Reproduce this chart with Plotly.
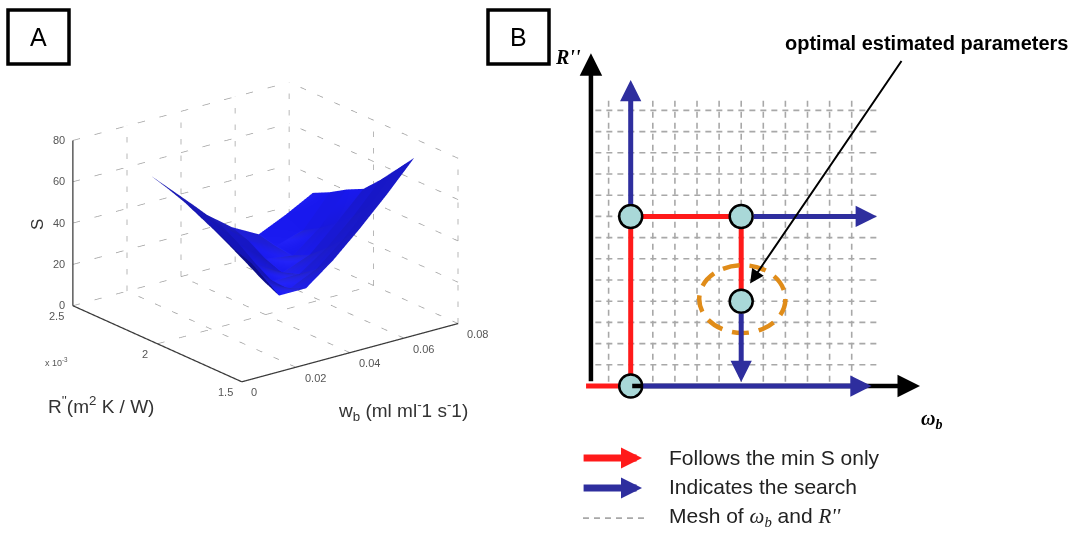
import plotly.graph_objects as go

W, H = 1071, 552

# ---------------- Panel A data ----------------
wb = [0.01, 0.02, 0.03, 0.04, 0.05, 0.06, 0.07]          # w_b (ml ml-1 s-1)
r_pp = [1.6, 1.7, 1.8, 1.9, 2.0, 2.1, 2.2]                # R'' (x10^-3 m2 K/W)
S = [
    [50.0, 31, 31, 41, 53, 66, 80],
    [53.0, 35, 27, 33, 44, 57, 71],
    [57.0, 40, 27, 27, 36, 48, 62],
    [61.0, 46, 32, 24, 29, 41, 54],
    [65.0, 52, 38, 27, 25, 35, 50],
    [68.0, 56, 43, 32, 26, 30, 45],
    [70.5, 58, 45, 35, 28, 34, 41],
]
wb_ticks = [0, 0.02, 0.04, 0.06, 0.08]
wb_ticklabels = ["0", "0.02", "0.04", "0.06", "0.08"]
r_ticks = [1.5, 2.0, 2.5]
r_ticklabels = ["1.5", "2", "2.5"]
s_ticks = [0, 20, 40, 60, 80]
s_ticklabels = ["0", "20", "40", "60", "80"]

# ---------------- Panel B data (schematic, grid units) ----------------
mesh_u = list(range(0, 12))          # omega_b mesh columns
mesh_v = list(range(1, 14))          # R'' mesh rows
path_u = [-1.02, 1, 1, 6, 6]         # path following min S
path_v = [0, 0, 8, 8, 4]
node_u = [1, 1, 6, 6]                # evaluated nodes
node_v = [0, 8, 8, 4]
search_arrows = [(1, 8, 1, 14.43), (6, 8, 12.14, 8), (6, 4, 6, 0.19), (1, 0, 11.9, 0)]
legend_labels = ["Follows the min S only", "Indicates the search",
                 "Mesh of <span style='font-family:Liberation Serif'><i>ω<sub>b</sub></i></span> and "
                 "<span style='font-family:Liberation Serif'><i>R''</i></span>"]

RED = "#ff1a1a"
BLUE = "#2e2e9e"
GRAYG = "#a8a8a8"


def px(xp):
    return xp / W


def py(yp):
    return 1 - yp / H


fig = go.Figure()

# ---------------- Panel A: 3D surface ----------------
W0, W1 = wb_ticks[0], wb_ticks[-1]
R0, R1 = r_ticks[0], r_ticks[-1]
Z0, Z1 = s_ticks[0], s_ticks[-1]

gx, gy, gz = [], [], []


def seg(p, q):
    gx.extend([p[0], q[0], None])
    gy.extend([p[1], q[1], None])
    gz.extend([p[2], q[2], None])


for w in wb_ticks[1:]:
    seg((w, R0, Z0), (w, R1, Z0))
for r in r_ticks[1:]:
    seg((W0, r, Z0), (W1, r, Z0))
for w in wb_ticks[1:]:
    seg((w, R1, Z0), (w, R1, Z1))
for z in s_ticks[1:]:
    seg((W0, R1, z), (W1, R1, z))
for r in r_ticks[:-1]:
    seg((W1, r, Z0), (W1, r, Z1))
for z in s_ticks[1:]:
    seg((W1, R0, z), (W1, R1, z))

fig.add_trace(go.Scatter3d(x=gx, y=gy, z=gz, mode="lines",
                           line=dict(color="#a0a0a0", width=1.5, dash="dot"),
                           hoverinfo="skip", showlegend=False, scene="scene"))

ax_x = [W0, W0, None, W0, W1, None, W0, W0]
ax_y = [R1, R1, None, R0, R0, None, R0, R1]
ax_z = [Z0, Z1, None, Z0, Z0, None, Z0, Z0]
fig.add_trace(go.Scatter3d(x=ax_x, y=ax_y, z=ax_z, mode="lines",
                           line=dict(color="#3a3a3a", width=2.5),
                           hoverinfo="skip", showlegend=False, scene="scene"))

fig.add_trace(go.Surface(x=wb, y=r_pp, z=S, scene="scene",
                         colorscale=[[0, "rgb(24,24,238)"], [1, "rgb(24,24,238)"]],
                         showscale=False, hoverinfo="skip",
                         lighting=dict(ambient=0.58, diffuse=0.75, specular=0.08,
                                       roughness=0.6, fresnel=0.05),
                         lightposition=dict(x=60000, y=40000, z=-100000)))

scene_ann = []
tickfont = dict(family="Liberation Sans", size=11, color="#555555")
for z, t in zip(s_ticks, s_ticklabels):
    scene_ann.append(dict(x=W0, y=R1, z=z, text=t, showarrow=False, xanchor="right",
                          xshift=-6, font=tickfont))
for r, t in zip(r_ticks, r_ticklabels):
    scene_ann.append(dict(x=W0, y=r, z=Z0, text=t, showarrow=False, xanchor="right",
                          xshift=-7, yshift=-11, font=tickfont))
for w, t in zip(wb_ticks, wb_ticklabels):
    scene_ann.append(dict(x=w, y=R0, z=Z0, text=t, showarrow=False, xanchor="left",
                          xshift=7, yshift=-11, font=tickfont))
scene_ann.append(dict(x=W0, y=R1, z=Z0, text="x 10<sup>-3</sup>", showarrow=False,
                      xshift=-16, yshift=-57, font=dict(family="Liberation Sans", size=9, color="#555555")))

zoom = 1.255
eye_dir = (-0.573, -0.741, 0.348)
axis_common = dict(visible=False, showgrid=False, zeroline=False, showline=False,
                   showticklabels=False, showbackground=False, showspikes=False, title="")
fig.update_layout(scene=dict(
    domain=dict(x=[0, 531 / W], y=[py(451.5), py(11.5)]),
    xaxis=dict(range=[-0.0004, 0.0804], **axis_common),
    yaxis=dict(range=[1.495, 2.505], **axis_common),
    zaxis=dict(range=[-0.4, 80.4], **axis_common),
    aspectmode="manual", aspectratio=dict(x=1 * zoom, y=1.01 * zoom, z=0.645 * zoom),
    camera=dict(eye=dict(x=2 * eye_dir[0], y=2 * eye_dir[1], z=2 * eye_dir[2]),
                up=dict(x=0, y=0, z=1), center=dict(x=0, y=0, z=0),
                projection=dict(type="orthographic")),
    bgcolor="rgba(0,0,0,0)",
    annotations=scene_ann,
))

# ---------------- Panel B: schematic ----------------
mx, my = [], []
for u in mesh_u:
    mx.extend([u, u, None])
    my.extend([0.2, 13.5, None])
for v in mesh_v:
    mx.extend([-0.6, 12.2, None])
    my.extend([v, v, None])
fig.add_trace(go.Scatter(x=mx, y=my, mode="lines", xaxis="x", yaxis="y",
                         line=dict(color=GRAYG, width=1.6, dash="6px,5px"),
                         hoverinfo="skip", showlegend=False))
fig.add_trace(go.Scatter(x=path_u, y=path_v, mode="lines", xaxis="x", yaxis="y",
                         line=dict(color=RED, width=5),
                         hoverinfo="skip", showlegend=False))
fig.add_trace(go.Scatter(x=[-1.16, 1.74], y=[-6.23, -6.23], mode="lines", xaxis="x", yaxis="y",
                         line=dict(color=GRAYG, width=1.6, dash="6px,5px"),
                         hoverinfo="skip", showlegend=False))
fig.add_trace(go.Scatter(x=node_u, y=node_v, mode="markers", xaxis="x", yaxis="y",
                         marker=dict(size=23, color="#a9d8d8", line=dict(color="black", width=2.5)),
                         hoverinfo="skip", showlegend=False))

ann = []
# black axes
ann.append(dict(x=-0.8, y=15.7, ax=-0.8, ay=0.15, xref="x", yref="y", axref="x", ayref="y",
                text="", showarrow=True, arrowhead=2, arrowsize=1.0, arrowwidth=4.5, arrowcolor="black"))
ann.append(dict(x=14.09, y=0, ax=1, ay=0, xref="x", yref="y", axref="x", ayref="y",
                text="", showarrow=True, arrowhead=2, arrowsize=1.0, arrowwidth=4.5, arrowcolor="black"))
# blue search arrows
for (tu, tv, hu, hv) in search_arrows:
    ann.append(dict(x=hu, y=hv, ax=tu, ay=tv, xref="x", yref="y", axref="x", ayref="y",
                    text="", showarrow=True, arrowhead=2, arrowsize=0.85, arrowwidth=5,
                    arrowcolor=BLUE, startstandoff=11))
# pointer arrow to optimum
ann.append(dict(x=6.4, y=4.84, ax=13.3, ay=15.4, xref="x", yref="y", axref="x", ayref="y",
                text="", showarrow=True, arrowhead=2, arrowsize=1.4, arrowwidth=2, arrowcolor="black"))
ann.append(dict(x=14.38, y=16.18, xref="x", yref="y", text="<b>optimal estimated parameters</b>",
                showarrow=False, xanchor="center", yanchor="middle",
                font=dict(family="Liberation Sans", size=20, color="black")))
ann.append(dict(x=-1.84, y=15.52, xref="x", yref="y", text="<b><i>R''</i></b>", showarrow=False,
                xanchor="center", yanchor="middle",
                font=dict(family="Liberation Serif", size=20, color="black")))
ann.append(dict(x=14.59, y=-1.56, xref="x", yref="y", text="<b><i>ω<sub>b</sub></i></b>", showarrow=False,
                xanchor="center", yanchor="middle",
                font=dict(family="Liberation Serif", size=20, color="black")))
# legend
ann.append(dict(x=1.51, y=-3.40, ax=-1.20, ay=-3.40, xref="x", yref="y", axref="x", ayref="y",
                text="", showarrow=True, arrowhead=2, arrowsize=0.6, arrowwidth=7, arrowcolor=RED))
ann.append(dict(x=1.51, y=-4.81, ax=-1.20, ay=-4.81, xref="x", yref="y", axref="x", ayref="y",
                text="", showarrow=True, arrowhead=2, arrowsize=0.6, arrowwidth=7, arrowcolor=BLUE))
for lab, v in zip(legend_labels, [-3.35, -4.76, -6.18]):
    ann.append(dict(x=2.64, y=v, xref="x", yref="y", text=lab, showarrow=False, xanchor="left",
                    yanchor="middle",
                    font=dict(family="Liberation Sans", size=21, color="#222222")))

# Panel A titles
ann.append(dict(x=px(38), y=py(225), xref="paper", yref="paper", text="S", textangle=-90,
                showarrow=False, xanchor="center", yanchor="middle",
                font=dict(family="Liberation Sans", size=17, color="#333333")))
ann.append(dict(x=px(101), y=py(405), xref="paper", yref="paper",
                text="R<sup>''</sup>(m<sup>2</sup> K / W)", showarrow=False,
                xanchor="center", yanchor="middle",
                font=dict(family="Liberation Sans", size=19, color="#333333")))
ann.append(dict(x=px(403), y=py(410), xref="paper", yref="paper",
                text="w<sub>b</sub> (ml ml<sup>-</sup>1 s<sup>-</sup>1)", showarrow=False,
                xanchor="center", yanchor="middle",
                font=dict(family="Liberation Sans", size=19, color="#333333")))
# panel letters
for lab, xc in [("A", 38.5), ("B", 518.5)]:
    ann.append(dict(x=px(xc), y=py(37), xref="paper", yref="paper", text=lab, showarrow=False,
                    xanchor="center", yanchor="middle",
                    font=dict(family="Liberation Sans", size=25, color="black")))

shapes = [
    dict(type="circle", xref="x", yref="y", x0=4.1, x1=8.0, y0=2.5, y1=5.7,
         line=dict(color="rgb(224,140,25)", width=4.5, dash="17px,10px"), layer="above"),
    dict(type="rect", xref="paper", yref="paper", x0=px(8), x1=px(69), y0=py(64), y1=py(10),
         line=dict(color="black", width=3.5)),
    dict(type="rect", xref="paper", yref="paper", x0=px(488), x1=px(549), y0=py(64), y1=py(10),
         line=dict(color="black", width=3.5)),
]

fig.update_layout(
    width=W, height=H, margin=dict(l=0, r=0, t=0, b=0),
    paper_bgcolor="white", plot_bgcolor="white", showlegend=False, hovermode=False,
    xaxis=dict(domain=[0.5, 1], range=[-3.308, 20.923], visible=False, fixedrange=True),
    yaxis=dict(domain=[0, 1], range=[-7.830, 18.208], visible=False, fixedrange=True),
    annotations=ann, shapes=shapes,
)

fig.write_html("out.html")
